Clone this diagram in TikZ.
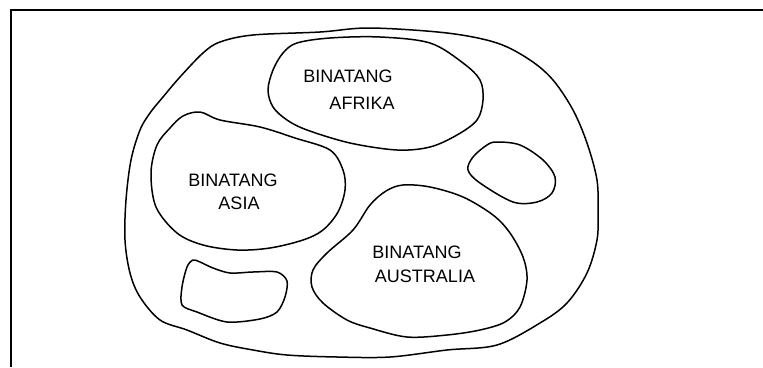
\documentclass[tikz,border=0pt]{standalone}
\usepackage{fontspec}
\setmainfont{Liberation Sans}
\begin{document}
\begin{tikzpicture}[x=1pt,y=-1pt,
  blob/.style={draw=black,line width=1.5pt,line join=round},
  frameline/.style={draw=black,line width=2.4pt},
  lbl/.style={font=\fontsize{18}{20}\selectfont,inner sep=0pt,align=center}]
\useasboundingbox (0,0) rectangle (763,367);
\coordinate (ftr) at (763,10);
\coordinate (ftl) at (11,10);
\coordinate (fbl) at (11,367);
\draw[frameline] (ftr) -- (ftl) -- (fbl);
% outer loop
\draw[blob] plot[smooth cycle,tension=0.55] coordinates {
 (370,28) (447,33) (497,43) (530,60) (553,80) (573,110) (587,143) (597,180)
 (598,213) (597,240) (587,273) (567,303) (540,323) (497,345) (447,350)
 (390,357) (337,357) (287,355) (253,350) (220,343) (187,330) (160,320)
 (140,297) (130,273) (125,240) (126,200) (131,160) (140,130) (150,113)
 (163,97) (180,77) (203,53) (220,42) (253,35) (320,32)};
% Afrika
\draw[blob] plot[smooth cycle,tension=0.55] coordinates {
 (380,37) (430,43) (463,63) (480,80) (483,100) (477,120) (457,135) (430,147)
 (397,150) (350,143) (307,130) (287,120) (273,107) (268,90) (273,70)
 (283,53) (297,43) (330,38)};
% Asia
\draw[blob] plot[smooth cycle,tension=0.55] coordinates {
 (200,112) (220,120) (260,127) (295,138) (330,150) (343,170) (345,190)
 (338,212) (323,230) (303,240) (270,248) (237,250) (203,245) (177,233)
 (156,207) (151,173) (157,145) (170,128) (183,116)};
% Australia
\draw[blob] plot[smooth cycle,tension=0.55] coordinates {
 (403,185) (430,187) (463,197) (493,215) (510,233) (523,257) (527,280)
 (520,307) (505,322) (480,330) (447,335) (407,337) (370,328) (347,320)
 (323,303) (312,287) (313,270) (327,253) (353,230) (370,205) (386,191)};
% small right blob
\draw[blob] plot[smooth cycle,tension=0.55] coordinates {
 (497,142) (520,145) (543,160) (555,177) (552,193) (537,202) (513,202)
 (480,183) (468,170) (473,157) (487,145)};
% small bottom-left blob
\draw[blob] plot[smooth cycle,tension=0.5] coordinates {
 (193,260) (200,262) (213,268) (230,273) (253,272) (277,272) (287,281)
 (285,297) (277,312) (260,319) (227,322) (197,312) (182,305) (182,287)
 (187,267)};
% labels
\node[lbl] (afr1) at (348,76) {BINATANG};
\node[lbl] (afr2) at (362,103) {AFRIKA};
\node[lbl] (asia1) at (233,180) {BINATANG};
\node[lbl] (asia2) at (239,203) {ASIA};
\node[lbl] (aus1) at (417,252) {BINATANG};
\node[lbl] (aus2) at (425,276) {AUSTRALIA};
\end{tikzpicture}
\end{document}
